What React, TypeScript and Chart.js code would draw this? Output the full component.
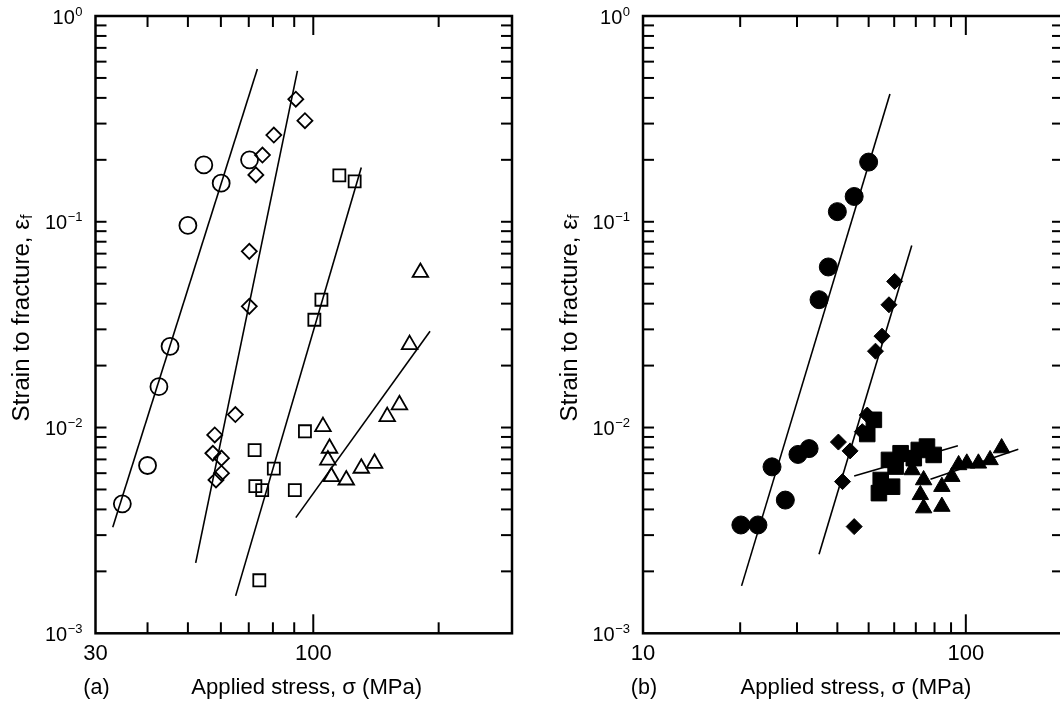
import React, { useEffect, useRef } from 'react';
import { Chart, registerables } from 'chart.js';

Chart.register(...registerables);

const FONT = '"Liberation Sans", Arial, Helvetica, sans-serif';

// ---------- Panel (a) data: [stress MPa, strain] ----------
const aCircles: [number, number][] = [
  [34.8, 0.00426], [40.0, 0.00654], [42.6, 0.0158], [45.3, 0.0248],
  [50.0, 0.096], [54.6, 0.189], [60.1, 0.154], [70.3, 0.2],
];
const aDiamonds: [number, number][] = [
  [90.8, 0.394], [95.5, 0.31], [80.4, 0.264], [75.5, 0.211], [72.8, 0.169],
  [70.2, 0.0718], [70.2, 0.0388], [65.0, 0.01156], [58.0, 0.0092], [57.4, 0.0075],
  [60.2, 0.0071], [60.2, 0.006], [58.4, 0.00556],
];
const aSquares: [number, number][] = [
  [115.5, 0.168], [125.7, 0.157], [104.6, 0.0418], [100.6, 0.0334], [95.5, 0.00959],
  [72.3, 0.00776], [80.4, 0.00631], [72.6, 0.00519], [75.4, 0.00496], [90.3, 0.00496],
  [74.2, 0.00181],
];
const aTriangles: [number, number][] = [
  [180.8, 0.0567], [170.3, 0.0253], [161.0, 0.0129], [150.5, 0.0113], [105.5, 0.0101],
  [109.4, 0.00793], [108.4, 0.00695], [110.5, 0.00577], [120.0, 0.00556],
  [130.4, 0.00634], [140.3, 0.0067],
];
const aCircleFit: [number, number][] = [[33.0, 0.00328], [73.4, 0.553]];
const aDiamondFit: [number, number][] = [[52.2, 0.0022], [91.6, 0.541]];
const aSquareFit: [number, number][] = [[65.1, 0.00152], [130.4, 0.1835]];
const aTriangleFit: [number, number][] = [[90.8, 0.00365], [190.7, 0.0294]];

// ---------- Panel (b) data ----------
const bCircles: [number, number][] = [
  [50.0, 0.195], [45.1, 0.1327], [40.0, 0.112], [37.5, 0.0603], [35.1, 0.0418],
  [32.7, 0.0079], [30.2, 0.0074], [25.1, 0.00644], [27.6, 0.00444], [20.1, 0.00336],
  [22.7, 0.00336],
];
const bDiamonds: [number, number][] = [
  [60.2, 0.0513], [57.8, 0.0395], [55.0, 0.0278], [52.5, 0.0235], [49.5, 0.0115],
  [47.8, 0.00955], [40.3, 0.0085], [43.8, 0.0077], [41.5, 0.00546], [45.1, 0.0033],
];
const bSquares: [number, number][] = [
  [51.9, 0.0109], [49.5, 0.0093], [57.8, 0.00696], [62.8, 0.0075], [69.0, 0.0071],
  [71.5, 0.00778], [75.8, 0.00808], [79.5, 0.00736], [54.5, 0.00556], [59.1, 0.00516],
  [53.8, 0.0048], [60.6, 0.00646],
];
const bTriangles: [number, number][] = [
  [68.2, 0.00622], [74.0, 0.00556], [72.3, 0.00471], [74.0, 0.00406], [84.3, 0.00413],
  [84.3, 0.00516], [90.5, 0.00577], [95.0, 0.00658], [100.7, 0.0067], [109.4, 0.0067],
  [118.9, 0.00696], [129.1, 0.00795],
];
const bCircleFit: [number, number][] = [[20.2, 0.0017], [58.2, 0.418]];
const bDiamondFit: [number, number][] = [[35.1, 0.00242], [68.0, 0.0767]];
const bSquareFit: [number, number][] = [[45.1, 0.00582], [94.5, 0.00815]];
const bTriangleFit: [number, number][] = [[77.7, 0.00561], [145.4, 0.00785]];

// ---------- Axes ----------
const aXRange: [number, number] = [30, 300];
const bXRange: [number, number] = [10, 200];
const yRange: [number, number] = [0.001, 1];
const aXTickLabels = [30, 100];
const bXTickLabels = [10, 100];
const aXMajorTicks = [100];
const aXMinorTicks = [40, 50, 60, 70, 80, 90, 200];
const bXMajorTicks = [100];
const bXMinorTicks = [20, 30, 40, 50, 60, 70, 80, 90];
const yDecadeExps = [0, -1, -2, -3];
const yMinorMultipliers = [2, 3, 4, 5, 6, 7, 8, 9];
const xTitle = 'Applied stress, \u03C3 (MPa)';
const yTitle = 'Strain to fracture, \u03B5';
const yTitleSub = 'f';

type Pt = [number, number];
const toXY = (arr: Pt[]) => arr.map(([x, y]) => ({ x, y }));

function markerSet(data: Pt[], style: string, radius: number, filled: boolean) {
  return {
    data: toXY(data),
    showLine: false,
    pointStyle: style,
    pointRadius: radius,
    pointBorderWidth: filled ? 1 : 1.8,
    pointBorderColor: '#000',
    pointBackgroundColor: filled ? '#000' : 'rgba(0,0,0,0)',
  };
}
function fitSet(data: Pt[]) {
  return {
    data: toXY(data),
    showLine: true,
    pointRadius: 0,
    borderColor: '#000',
    borderWidth: 1.6,
    fill: false,
  };
}

interface PanelProps {
  left: number;
  width: number;
  padLeft: number;
  padRight: number;
  xRange: [number, number];
  xTickLabels: number[];
  xMajor: number[];
  xMinor: number[];
  datasets: any[];
  panelLabel: string;
}

function Panel(p: PanelProps) {
  const ref = useRef<HTMLCanvasElement | null>(null);
  useEffect(() => {
    const canvas = ref.current;
    if (!canvas) return;
    const decor = {
      id: 'decor',
      afterDraw(chart: any) {
        const { ctx, chartArea: ca, scales } = chart;
        const xs = scales.x;
        const ys = scales.y;
        ctx.save();
        ctx.strokeStyle = '#000';
        ctx.fillStyle = '#000';
        // frame
        ctx.lineWidth = 2.5;
        ctx.strokeRect(ca.left, ca.top, ca.right - ca.left, ca.bottom - ca.top);
        ctx.lineWidth = 2;
        const vLine = (x: number, y0: number, y1: number) => {
          ctx.beginPath(); ctx.moveTo(x, y0); ctx.lineTo(x, y1); ctx.stroke();
        };
        const hLine = (y: number, x0: number, x1: number) => {
          ctx.beginPath(); ctx.moveTo(x0, y); ctx.lineTo(x1, y); ctx.stroke();
        };
        p.xMinor.forEach((v) => {
          const px = xs.getPixelForValue(v);
          vLine(px, ca.bottom, ca.bottom - 11);
          vLine(px, ca.top, ca.top + 11);
        });
        p.xMajor.forEach((v) => {
          const px = xs.getPixelForValue(v);
          vLine(px, ca.bottom, ca.bottom - 19);
          vLine(px, ca.top, ca.top + 19);
        });
        yDecadeExps.forEach((e) => {
          const d = Math.pow(10, e);
          const vals = e === 0 ? [] : yMinorMultipliers.map((m) => m * d);
          if (e !== 0 && e !== -3) vals.push(d);
          vals.forEach((v) => {
            const py = ys.getPixelForValue(v);
            hLine(py, ca.left, ca.left + 11);
            hLine(py, ca.right, ca.right - 11);
          });
        });
        // y tick labels 10^n
        yDecadeExps.forEach((e) => {
          const py = ys.getPixelForValue(Math.pow(10, e));
          const sup = e === 0 ? '0' : '\u2212' + Math.abs(e);
          ctx.font = `13px ${FONT}`;
          const sw = ctx.measureText(sup).width;
          const rightEdge = ca.left - 13;
          ctx.textAlign = 'right';
          ctx.textBaseline = 'alphabetic';
          ctx.fillText(sup, rightEdge, py - 0.5);
          ctx.font = `20px ${FONT}`;
          ctx.textBaseline = 'middle';
          ctx.fillText('10', rightEdge - sw - 0.5, py + 2);
        });
        // x tick labels
        ctx.font = `22px ${FONT}`;
        ctx.textAlign = 'center';
        ctx.textBaseline = 'middle';
        p.xTickLabels.forEach((v) => {
          ctx.fillText(String(v), xs.getPixelForValue(v), ca.bottom + 21);
        });
        // x title (sized to span ~231px as in the reference)
        ctx.font = `21px ${FONT}`;
        const xw = ctx.measureText(xTitle).width;
        const xSize = 21 * 231 / xw;
        ctx.font = `${xSize}px ${FONT}`;
        ctx.textBaseline = 'alphabetic';
        ctx.fillText(xTitle, (ca.left + ca.right) / 2 + 3, 694);
        // panel label
        ctx.font = `21.5px ${FONT}`;
        ctx.fillText(p.panelLabel, ca.left + 1, 694);
        // y title rotated (sized to span ~207px)
        ctx.save();
        ctx.translate(ca.left - 73, 318);
        ctx.rotate(-Math.PI / 2);
        ctx.font = `21px ${FONT}`;
        const m0 = ctx.measureText(yTitle).width;
        ctx.font = `14px ${FONT}`;
        const s0 = ctx.measureText(yTitleSub).width;
        const ySize = 21 * 207 / (m0 + s0);
        const subSize = ySize * 0.66;
        ctx.font = `${ySize}px ${FONT}`;
        const mainW = ctx.measureText(yTitle).width;
        ctx.font = `${subSize}px ${FONT}`;
        const subW = ctx.measureText(yTitleSub).width;
        const total = mainW + subW;
        ctx.textAlign = 'left';
        ctx.textBaseline = 'middle';
        ctx.font = `${ySize}px ${FONT}`;
        ctx.fillText(yTitle, -total / 2, 0);
        ctx.font = `${subSize}px ${FONT}`;
        ctx.fillText(yTitleSub, -total / 2 + mainW, 5);
        ctx.restore();
        ctx.restore();
      },
    };
    const chart = new Chart(canvas, {
      type: 'scatter',
      data: { datasets: p.datasets },
      options: {
        animation: false,
        responsive: false,
        devicePixelRatio: 1,
        events: [],
        layout: { padding: { left: p.padLeft, right: p.padRight, top: 16, bottom: 76.7 } },
        plugins: { legend: { display: false }, tooltip: { enabled: false }, title: { display: false } },
        scales: {
          x: { type: 'logarithmic', display: false, min: p.xRange[0], max: p.xRange[1] },
          y: { type: 'logarithmic', display: false, min: yRange[0], max: yRange[1] },
        },
      } as any,
      plugins: [decor],
    });
    return () => chart.destroy();
  }, []);
  return (
    <canvas
      ref={ref}
      width={p.width}
      height={710}
      style={{ position: 'absolute', left: p.left, top: 0, width: p.width, height: 710 }}
    />
  );
}

export default function App() {
  const aSets = [
    markerSet(aCircles, 'circle', 8.5, false),
    markerSet(aDiamonds, 'rectRot', 7.5, false),
    markerSet(aSquares, 'rect', 8.5, false),
    markerSet(aTriangles, 'triangle', 9, false),
    fitSet(aCircleFit),
    fitSet(aDiamondFit),
    fitSet(aSquareFit),
    fitSet(aTriangleFit),
  ];
  const bSets = [
    markerSet(bCircles, 'circle', 9, true),
    markerSet(bDiamonds, 'rectRot', 8, true),
    markerSet(bSquares, 'rect', 11, true),
    markerSet(bTriangles, 'triangle', 9.5, true),
    fitSet(bCircleFit),
    fitSet(bDiamondFit),
    fitSet(bSquareFit),
    fitSet(bTriangleFit),
  ];
  return (
    <div style={{ position: 'fixed', left: 0, top: 0, width: 1060, height: 710, overflow: 'hidden', background: '#fff' }}>
      <Panel left={0} width={530} padLeft={95.5} padRight={18} xRange={aXRange}
        xTickLabels={aXTickLabels} xMajor={aXMajorTicks} xMinor={aXMinorTicks}
        datasets={aSets} panelLabel="(a)" />
      <Panel left={530} width={545} padLeft={113} padRight={10} xRange={bXRange}
        xTickLabels={bXTickLabels} xMajor={bXMajorTicks} xMinor={bXMinorTicks}
        datasets={bSets} panelLabel="(b)" />
    </div>
  );
}
